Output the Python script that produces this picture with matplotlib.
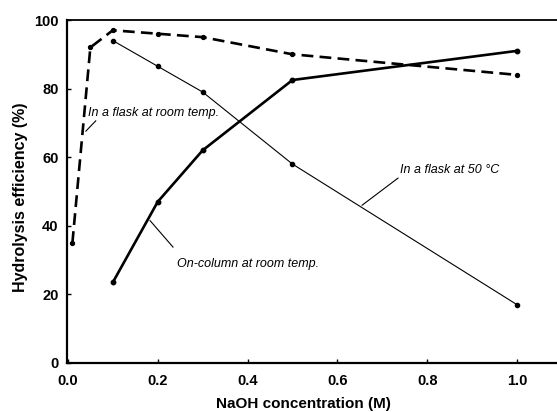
import numpy as np
import matplotlib
matplotlib.use("Agg")
import matplotlib.pyplot as plt

# NaOH concentration (M)
x_flask_rt = [0.01, 0.05, 0.1, 0.2, 0.3, 0.5, 1.0]
y_flask_rt = [35, 92, 97, 96, 95, 90, 84]

x_flask_50 = [0.1, 0.2, 0.3, 0.5, 1.0]
y_flask_50 = [94, 86.5, 79, 58, 17]

x_column = [0.1, 0.2, 0.3, 0.5, 1.0]
y_column = [23.5, 47, 62, 82.5, 91]

xticks = [0.0, 0.2, 0.4, 0.6, 0.8, 1.0]
yticks = [0, 20, 40, 60, 80, 100]

plt.rcParams['font.family'] = ['Liberation Sans', 'DejaVu Sans']
plt.rcParams['lines.scale_dashes'] = False

fig = plt.figure(figsize=(5.57, 4.12), dpi=100)
ax = fig.add_axes([67 / 557, 49 / 412, 490 / 557, 343 / 412])

ax.plot(x_flask_rt, y_flask_rt, color='black', lw=1.9, dashes=(8.5, 4.5),
        marker='o', ms=2.8)
ax.plot(x_flask_50, y_flask_50, color='black', lw=0.8, marker='o', ms=3)
ax.plot(x_column, y_column, color='black', lw=1.9, marker='o', ms=3.2)

ax.set_xlim(-0.002, 1.089)
ax.set_ylim(0, 100)
ax.set_xticks(xticks)
ax.set_xticklabels(['%.1f' % v for v in xticks])
ax.set_yticks(yticks)

ax.spines['right'].set_visible(False)
ax.spines['left'].set_linewidth(1.6)
ax.spines['bottom'].set_linewidth(1.6)
ax.spines['top'].set_linewidth(1.3)
ax.tick_params(direction='in', length=3, width=1, labelsize=10.5)
ax.tick_params(axis='x', pad=8)
ax.tick_params(axis='y', pad=6)
for lab in ax.get_xticklabels() + ax.get_yticklabels():
    lab.set_fontweight('bold')

ax.set_xlabel('NaOH concentration (M)', fontsize=11, fontweight='bold')
ax.set_ylabel('Hydrolysis efficiency (%)', fontsize=11.5, fontweight='bold')
ax.xaxis.set_label_coords(0.482, -0.098)
ax.yaxis.set_label_coords(-0.08, 0.484)

# annotations
ax.text(0.045, 72.9, 'In a flask at room temp.', fontsize=9, style='italic',
        va='center', ha='left')
ax.plot([0.062, 0.040], [70.6, 67.6], color='black', lw=0.8)

ax.text(0.739, 56.3, 'In a flask at 50 \u00b0C', fontsize=9, style='italic',
        va='center', ha='left')
ax.plot([0.735, 0.655], [53.9, 46.0], color='black', lw=0.8)

ax.text(0.243, 28.9, 'On-column at room temp.', fontsize=9, style='italic',
        va='center', ha='left')
ax.plot([0.234, 0.183], [33.8, 41.5], color='black', lw=0.8)

fig.savefig('out.png', dpi=100)
